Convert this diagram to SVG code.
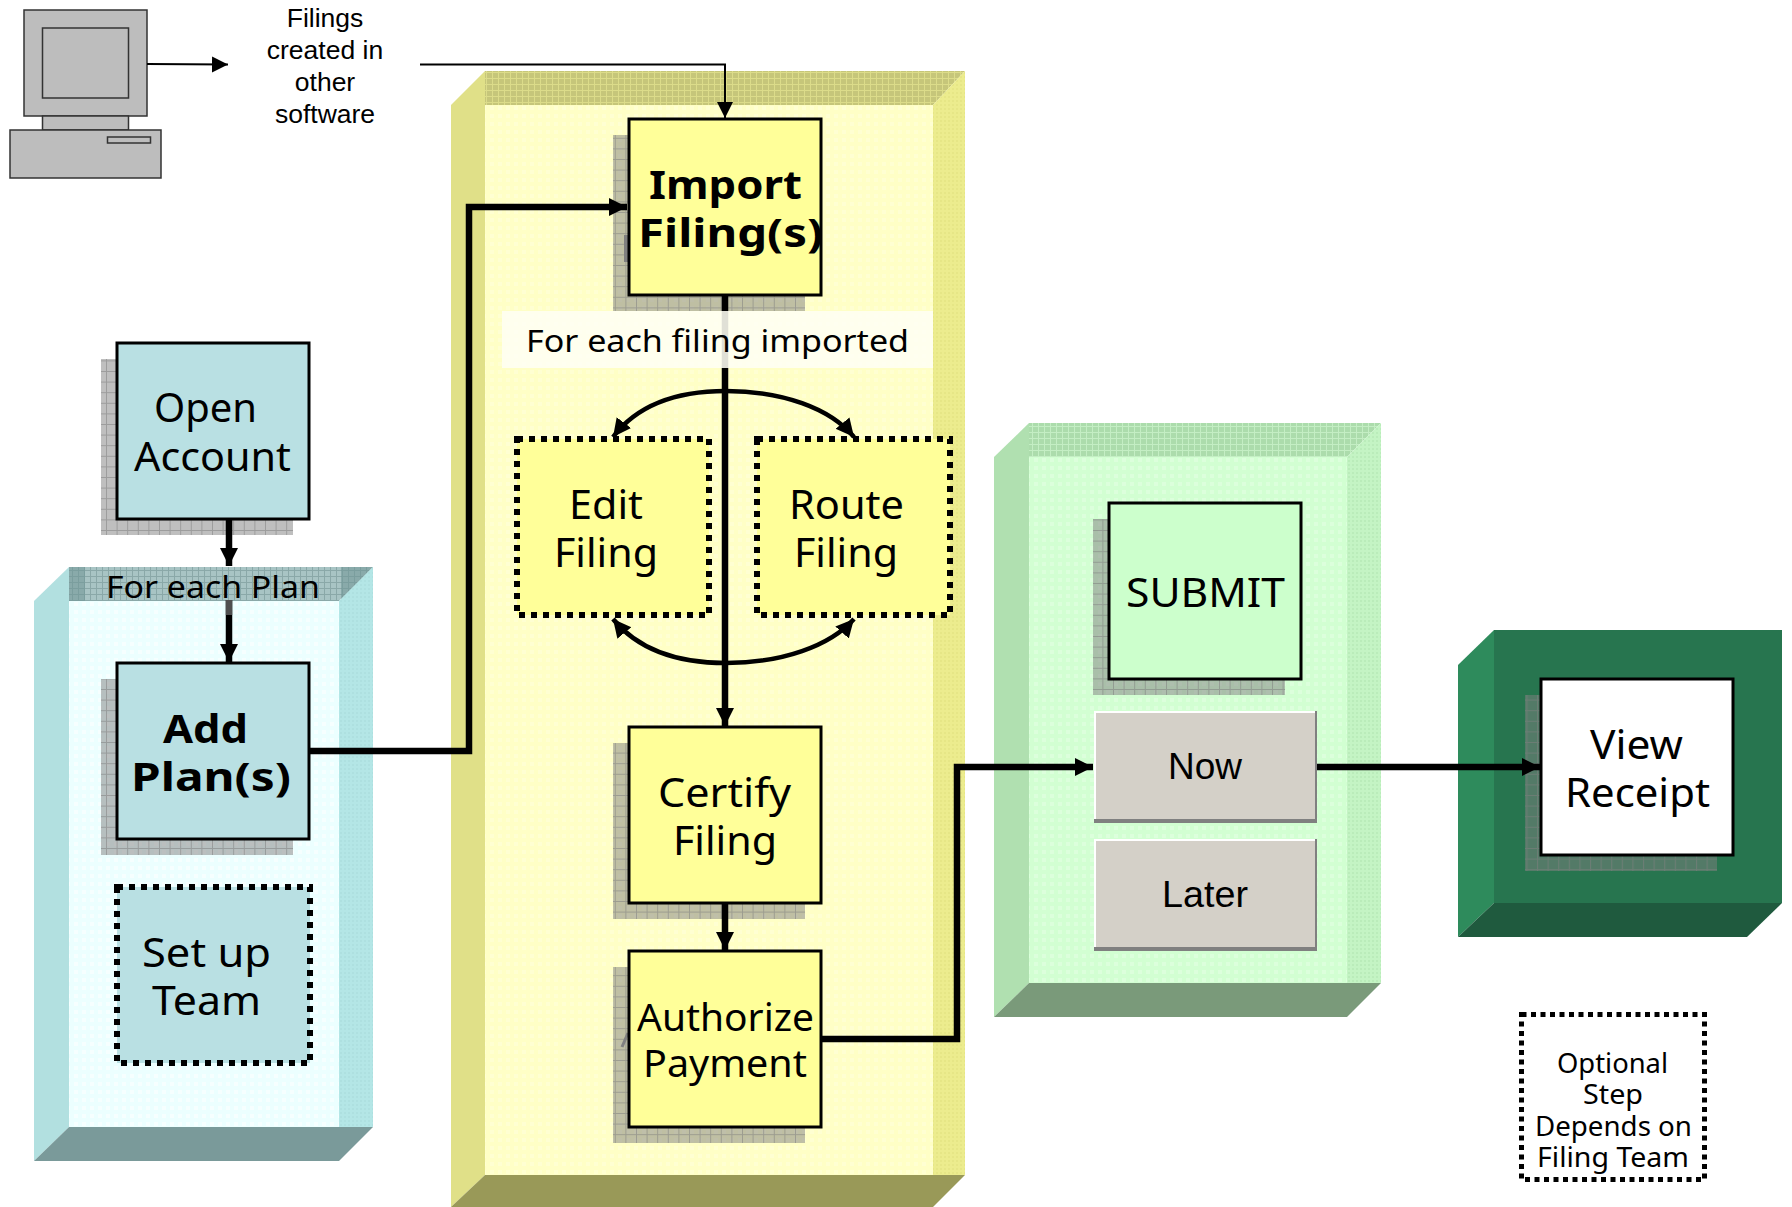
<svg xmlns="http://www.w3.org/2000/svg" width="1792" height="1207" viewBox="0 0 1792 1207">
<style>
.t{font-family:"Noto Sans","DejaVu Sans",sans-serif;fill:#000}
.a{font-family:"Liberation Sans",Arial,sans-serif;fill:#000}
.b{font-weight:bold}
.box{stroke:#000;stroke-width:3}
.opt{stroke:#000;stroke-width:6;stroke-dasharray:6 6}
.shadow{fill:url(#shadowGrid)}
.c{fill:none;stroke:#000;stroke-width:6.5}
.thin{fill:none;stroke:#000;stroke-width:2}
.arc{fill:none;stroke:#000;stroke-width:4.5}
.pc{fill:#bdbdbd;stroke:#333;stroke-width:1.5}
</style>
<defs>
<pattern id="shadowGrid" width="10.6" height="10.6" patternUnits="userSpaceOnUse"><rect width="10.6" height="10.6" fill="#808080" fill-opacity=".5"/><path d="M0 .5H10.600M.5 0V10.600" stroke="#808080" stroke-opacity=".55" stroke-width="1"/></pattern>
<pattern id="yFront" width="8" height="8" patternUnits="userSpaceOnUse"><rect width="8" height="8" fill="#ffffc6"/><rect x="2" y="2" width="4" height="4" fill="#ffffd2"/></pattern>
<pattern id="yTop" width="12" height="12" patternUnits="userSpaceOnUse"><rect width="12" height="12" fill="#c6c67a"/><path d="M0 .5H12M0 6.500H12M.5 0V12M6.500 0V12" stroke="#dcdc8a" stroke-width="1"/></pattern>
<pattern id="yRight" width="4" height="4" patternUnits="userSpaceOnUse"><rect width="4" height="4" fill="#ecec8e"/><rect width="2" height="2" fill="#e6e686"/></pattern>
<pattern id="cFront" width="8" height="8" patternUnits="userSpaceOnUse"><rect width="8" height="8" fill="#ecffff"/><rect x="2" y="2" width="4" height="4" fill="#f6ffff"/></pattern>
<pattern id="cTop" width="12" height="12" patternUnits="userSpaceOnUse"><rect width="12" height="12" fill="#a8c4c4"/><path d="M0 .5H12M0 6.500H12M.5 0V12M6.500 0V12" stroke="#8aa8a8" stroke-width="1"/></pattern>
<pattern id="cRight" width="4" height="4" patternUnits="userSpaceOnUse"><rect width="4" height="4" fill="#b4e6e6"/><rect width="2" height="2" fill="#aee0e0"/></pattern>
<pattern id="gFront" width="8" height="8" patternUnits="userSpaceOnUse"><rect width="8" height="8" fill="#d2ffd2"/><rect x="2" y="2" width="4" height="4" fill="#dcffdc"/></pattern>
<pattern id="gTop" width="12" height="12" patternUnits="userSpaceOnUse"><rect width="12" height="12" fill="#acdcac"/><path d="M0 .5H12M0 6.500H12M.5 0V12M6.500 0V12" stroke="#c4eec4" stroke-width="1"/></pattern>
<pattern id="gRight" width="4" height="4" patternUnits="userSpaceOnUse"><rect width="4" height="4" fill="#c4f4c4"/><rect width="2" height="2" fill="#baecba"/></pattern>
<pattern id="dither" width="4" height="4" patternUnits="userSpaceOnUse"><rect width="4" height="4" fill="#000"/><path d="M0 1H4M0 3H4M1 0V4M3 0V4" stroke="#888" stroke-width=".7"/></pattern>
<marker id="big" markerUnits="userSpaceOnUse" markerWidth="20" markerHeight="20" refX="18" refY="9" orient="auto"><path d="M0 0L18 9L0 18Z" fill="#000"/></marker>
<marker id="small" markerUnits="userSpaceOnUse" markerWidth="18" markerHeight="18" refX="16" refY="8" orient="auto"><path d="M0 0L16 8L0 16Z" fill="#000"/></marker>
<marker id="curve" markerUnits="userSpaceOnUse" markerWidth="20" markerHeight="20" refX="18" refY="10" orient="auto"><path d="M0 1L18 10L0 19Z" fill="#000"/></marker>
</defs>
<rect width="1792" height="1207" fill="#fff"/>

<g id="computer">
<rect class="pc" x="24" y="10" width="123" height="106"/>
<rect class="pc" x="42.5" y="28" width="86" height="70"/>
<rect class="pc" x="42.5" y="116" width="86" height="14"/>
<rect class="pc" x="10" y="130" width="151" height="48"/>
<rect class="pc" x="107.500" y="137" width="43" height="6"/>
</g>
<g id="filings-label" class="a" font-size="26.500" text-anchor="middle">
<text x="325" y="27">Filings</text>
<text x="325" y="58.500">created in</text>
<text x="325" y="90.500">other</text>
<text x="325" y="122.500">software</text>
</g>

<g id="plan-group">
<polygon points="34,601 69,567 69,1127 34,1161" fill="#b2e0e0"/>
<polygon points="69,567 373,567 339,601 69,601" fill="url(#cTop)"/>
<rect x="69" y="567" width="16" height="34" fill="#6f9595" fill-opacity=".55"/>
<polygon points="341,567 373,567 341,601" fill="#6f9595" fill-opacity=".55"/>
<polygon points="373,567 373,1127 339,1127 339,601" fill="url(#cRight)"/>
<polygon points="34,1161 69,1127 373,1127 339,1161" fill="#7a9a9a"/>
<rect x="69" y="601" width="270" height="526" fill="url(#cFront)"/>
</g>
<g id="import-group">
<polygon points="451,105 485,71 485,1175 451,1207" fill="#e0e088"/>
<polygon points="485,71 965,71 933,105 485,105" fill="url(#yTop)"/>
<polygon points="965,71 965,1175 933,1175 933,105" fill="url(#yRight)"/>
<polygon points="451,1207 485,1175 965,1175 933,1207" fill="#999958"/>
<rect x="485" y="105" width="448" height="1070" fill="url(#yFront)"/>
</g>
<g id="submit-group">
<polygon points="994,457 1029,423 1029,983 994,1017" fill="#b0e0b0"/>
<polygon points="1029,423 1381,423 1347,457 1029,457" fill="url(#gTop)"/>
<polygon points="1381,423 1381,983 1347,983 1347,457" fill="url(#gRight)"/>
<polygon points="994,1017 1029,983 1381,983 1347,1017" fill="#7a9a7a"/>
<rect x="1029" y="457" width="318" height="526" fill="url(#gFront)"/>
</g>
<g id="receipt-group">
<polygon points="1458,665 1494,630 1494,903 1458,937" fill="#2e8b5c"/>
<polygon points="1494,630 1782,630 1782,903 1494,903" fill="#27754f"/>
<polygon points="1458,937 1494,903 1782,903 1747,937" fill="#1f5a3e"/>
</g>

<g id="open-account">
<rect class="shadow" x="101" y="359" width="192" height="176"/>
<rect class="box" x="117" y="343" width="192" height="176" fill="#b9e0e3"/>
<text class="t" font-size="40" x="154" y="422" textLength="103" lengthAdjust="spacingAndGlyphs">Open</text>
<text class="t" font-size="40" x="134" y="471" textLength="157" lengthAdjust="spacingAndGlyphs">Account</text>
</g>
<g id="add-plan">
<rect class="shadow" x="101" y="679" width="192" height="176"/>
<rect class="box" x="117" y="663" width="192" height="176" fill="#b9e0e3"/>
<text class="t b" font-size="40" x="163" y="743" textLength="85" lengthAdjust="spacingAndGlyphs">Add</text>
<text class="t b" font-size="40" x="131" y="791" textLength="160" lengthAdjust="spacingAndGlyphs">Plan(s)</text>
</g>
<g id="set-up-team">
<rect class="opt" x="117" y="887" width="193" height="176" fill="#b9e0e3"/>
<text class="t" font-size="40" x="142" y="967" textLength="129" lengthAdjust="spacingAndGlyphs">Set up</text>
<text class="t" font-size="40" x="152" y="1015" textLength="109" lengthAdjust="spacingAndGlyphs">Team</text>
</g>
<g id="import-filings">
<rect class="shadow" x="613" y="135" width="192" height="176"/>
<rect x="624" y="235" width="5" height="27" fill="#808080"/>
<rect class="box" x="629" y="119" width="192" height="176" fill="#ffff99"/>
<text class="t b" font-size="40" x="649" y="199" textLength="153" lengthAdjust="spacingAndGlyphs">Import</text>
<text class="t b" font-size="40" x="638" y="247" textLength="185" lengthAdjust="spacingAndGlyphs">Filing(s)</text>
</g>
<g id="edit-filing">
<rect class="opt" x="517" y="439" width="192" height="176" fill="#ffff99"/>
<text class="t" font-size="40" x="569" y="519" textLength="74" lengthAdjust="spacingAndGlyphs">Edit</text>
<text class="t" font-size="40" x="554" y="567" textLength="104" lengthAdjust="spacingAndGlyphs">Filing</text>
</g>
<g id="route-filing">
<rect class="opt" x="757" y="439" width="193" height="176" fill="#ffff99"/>
<text class="t" font-size="40" x="789" y="519" textLength="115" lengthAdjust="spacingAndGlyphs">Route</text>
<text class="t" font-size="40" x="794" y="567" textLength="104" lengthAdjust="spacingAndGlyphs">Filing</text>
</g>
<g id="certify-filing">
<rect class="shadow" x="613" y="743" width="192" height="176"/>
<rect class="box" x="629" y="727" width="192" height="176" fill="#ffff99"/>
<text class="t" font-size="40" x="658" y="807" textLength="133" lengthAdjust="spacingAndGlyphs">Certify</text>
<text class="t" font-size="40" x="673" y="855" textLength="104" lengthAdjust="spacingAndGlyphs">Filing</text>
</g>
<g id="authorize-payment">
<rect class="shadow" x="613" y="967" width="192" height="176"/>
<path d="M622 1047L628 1033" stroke="#808080" stroke-width="3"/>
<rect class="box" x="629" y="951" width="192" height="176" fill="#ffff99"/>
<text class="t" font-size="38" x="637" y="1031" textLength="177" lengthAdjust="spacingAndGlyphs">Authorize</text>
<text class="t" font-size="38" x="643" y="1077" textLength="164" lengthAdjust="spacingAndGlyphs">Payment</text>
</g>
<g id="submit">
<rect class="shadow" x="1093" y="519" width="192" height="176"/>
<rect class="box" x="1109" y="503" width="192" height="176" fill="#ccffcc"/>
<text class="t" font-size="40" x="1126" y="607" textLength="159" lengthAdjust="spacingAndGlyphs">SUBMIT</text>
</g>
<g id="now">
<rect x="1094" y="711" width="223" height="112" fill="#808080"/>
<rect x="1094" y="711" width="221" height="108" fill="#fff"/>
<rect x="1096" y="713" width="219" height="106" fill="#d4d0c8"/>
<text class="a" font-size="37" x="1168" y="779" textLength="74" lengthAdjust="spacingAndGlyphs">Now</text>
</g>
<g id="later">
<rect x="1094" y="839" width="223" height="112" fill="#808080"/>
<rect x="1094" y="839" width="221" height="108" fill="#fff"/>
<rect x="1096" y="841" width="219" height="106" fill="#d4d0c8"/>
<text class="a" font-size="37" x="1162" y="907" textLength="86" lengthAdjust="spacingAndGlyphs">Later</text>
</g>
<g id="view-receipt">
<rect class="shadow" x="1525" y="695" width="192" height="176"/>
<rect class="box" x="1541" y="679" width="192" height="176" fill="#fff"/>
<text class="t" font-size="40" x="1590" y="759" textLength="93" lengthAdjust="spacingAndGlyphs">View</text>
<text class="t" font-size="40" x="1565" y="807" textLength="145" lengthAdjust="spacingAndGlyphs">Receipt</text>
</g>
<g id="legend">
<rect x="1521.500" y="1014.500" width="183" height="165" fill="#fff" stroke="#000" stroke-width="5" stroke-dasharray="5 4.500"/>
<text class="t" font-size="27" x="1557" y="1073" textLength="111" lengthAdjust="spacingAndGlyphs">Optional</text>
<text class="t" font-size="27" x="1583" y="1104" textLength="60" lengthAdjust="spacingAndGlyphs">Step</text>
<text class="t" font-size="27" x="1535" y="1136" textLength="157" lengthAdjust="spacingAndGlyphs">Depends on</text>
<text class="t" font-size="27" x="1537" y="1167" textLength="152" lengthAdjust="spacingAndGlyphs">Filing Team</text>
</g>

<g id="connectors">
<path class="thin" d="M147 64L228 64.500" marker-end="url(#small)"/>
<path class="thin" d="M420 64.500H725V118" marker-end="url(#small)"/>
<path class="c" d="M229 519V566" marker-end="url(#big)"/>
<path class="c" d="M229 600V662" marker-end="url(#big)"/>
<rect x="225.800" y="600" width="6.400" height="15" fill="url(#dither)"/>
<path class="c" d="M309 751H469V207H627" marker-end="url(#big)"/>
<path class="c" d="M725 295V726" marker-end="url(#big)"/>
<path class="c" d="M725 903V950" marker-end="url(#big)"/>
<path class="c" d="M821 1039H957V767H1093" marker-end="url(#big)"/>
<path class="c" d="M1317 767H1540" marker-end="url(#big)"/>
<path class="arc" d="M726 391C670 391 635 408 613 437" marker-end="url(#curve)"/>
<path class="arc" d="M726 391C782 391 830 408 854 437" marker-end="url(#curve)"/>
<path class="arc" d="M726 663C670 663 635 646 613 619" marker-end="url(#curve)"/>
<path class="arc" d="M726 663C782 663 830 646 854 619" marker-end="url(#curve)"/>
</g>

<g id="for-each-plan"><text class="t" font-size="30" x="106" y="598" textLength="214" lengthAdjust="spacingAndGlyphs">For each Plan</text></g>
<g id="for-each-filing">
<rect x="502" y="311" width="431" height="57" fill="#fffff4" fill-opacity=".88"/>
<text class="t" font-size="31" x="526" y="352" textLength="383" lengthAdjust="spacingAndGlyphs">For each filing imported</text>
</g>
</svg>
